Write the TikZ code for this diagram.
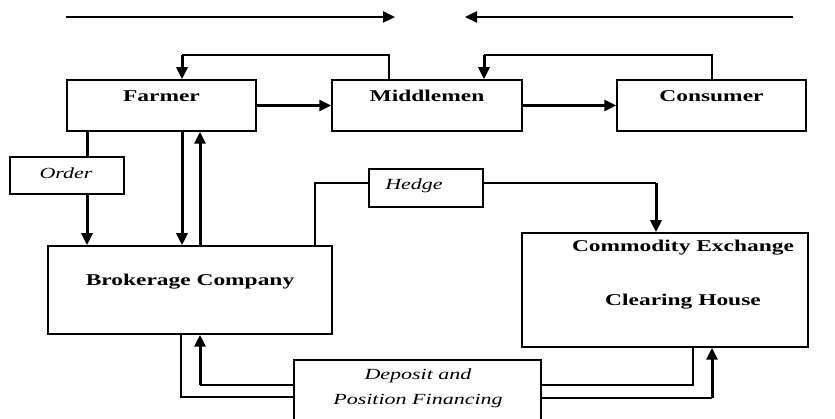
\documentclass[tikz,border=0pt]{standalone}
\usepackage{fontspec}
\setmainfont{Liberation Serif}[FakeStretch=1.42]
\usetikzlibrary{arrows.meta}
\begin{document}
\begin{tikzpicture}[x=1pt,y=-1pt,
  box/.style={draw, line width=1.5pt, inner sep=0pt, fill=white},
  blab/.style={inner sep=0pt, font=\fontsize{16.5}{19}\selectfont\bfseries},
  ilab/.style={inner sep=0pt, align=center, font=\fontsize{15.5}{25}\selectfont\itshape},
  thinl/.style={line width=1.2pt},
  thk/.style={line width=3pt, -{Triangle[width=11pt,length=12pt]}},
  thkn/.style={line width=3pt},
  toparr/.style={line width=2.4pt, -{Triangle[width=11pt,length=12pt]}}]
\useasboundingbox (0,0) rectangle (835,419);
\clip (0,0) rectangle (835,419);
% boxes
\node[box, minimum width=189, minimum height=51] (farmer) at (161.5,105.5) {};
\node[box, minimum width=190, minimum height=51] (mid) at (427,105.5) {};
\node[box, minimum width=189, minimum height=51] (cons) at (711.5,105.5) {};
\node[box, minimum width=114, minimum height=37] (order) at (67,175.5) {};
\node[box, minimum width=284, minimum height=88] (brok) at (190,290) {};
\node[box, minimum width=114, minimum height=38] (hedge) at (426,188) {};
\node[box, minimum width=286, minimum height=114] (comm) at (665,290) {};
\node[box, minimum width=247, minimum height=90] (dep) at (417.5,405) {};
% labels
\node[blab] (farmerT) at (161.5,96) {Farmer};
\node[blab] (midT) at (427,96) {Middlemen};
\node[blab] (consT) at (711.5,96) {Consumer};
\node[blab] (brokT) at (190,282) {Brokerage Company};
\node[blab] (commT1) at (683,248) {Commodity Exchange};
\node[blab] (commT2) at (683,302) {Clearing House};
\node[ilab] (orderT) at (66,173) {Order};
\node[ilab] (hedgeT) at (414,186) {Hedge};
\node[ilab] (depT) at (418,388) {Deposit and\\Position Financing};
% top arrows
\coordinate (t1) at (66,17); \coordinate (t2) at (395,17);
\coordinate (t3) at (793,17); \coordinate (t4) at (465,17);
\draw[toparr] (t1) -- (t2);
\draw[toparr] (t3) -- (t4);
% loops on top
\coordinate (l1) at (389,55); \coordinate (l2) at (182,55);
\draw[thinl] (mid.north -| l1) -- (l1) -- (l2);
\draw[thk] (l2) -- (farmer.north -| l2);
\coordinate (r1) at (712,55); \coordinate (r2) at (484,55);
\draw[thinl] (cons.north -| r1) -- (r1) -- (r2);
\draw[thk] (r2) -- (mid.north -| r2);
% horizontal flow
\draw[thk] (farmer.east) -- (mid.west);
\draw[thk] (mid.east) -- (cons.west);
% order
\coordinate (o1) at (87,0);
\draw[thkn] (farmer.south -| o1) -- (order.north -| o1);
\draw[thk] (order.south -| o1) -- (brok.north -| o1);
% farmer <-> brokerage
\coordinate (f1) at (182,0); \coordinate (f2) at (200,0);
\draw[thk] (farmer.south -| f1) -- (brok.north -| f1);
\draw[thk] (brok.north -| f2) -- (farmer.south -| f2);
% hedge
\coordinate (h1) at (315,183); \coordinate (h2) at (656,183);
\draw[thinl] (brok.north -| h1) -- (h1) -- (hedge.west |- h1);
\draw[thinl] (hedge.east |- h2) -- (h2);
\draw[thk] (h2) -- (comm.north -| h2);
% deposit
\coordinate (d1) at (181,397); \coordinate (d2) at (200,385);
\draw[thinl] (brok.south -| d1) -- (d1) -- (dep.west |- d1);
\draw[thinl] (dep.west |- d2) -- (d2);
\draw[thk] (d2) -- (brok.south -| d2);
\coordinate (e1) at (693,385); \coordinate (e2) at (712,398);
\draw[thinl] (dep.east |- e1) -- (e1) -- (comm.south -| e1);
\draw[thinl] (dep.east |- e2) -- (e2);
\draw[thk] (e2) -- (comm.south -| e2);
\end{tikzpicture}
\end{document}
